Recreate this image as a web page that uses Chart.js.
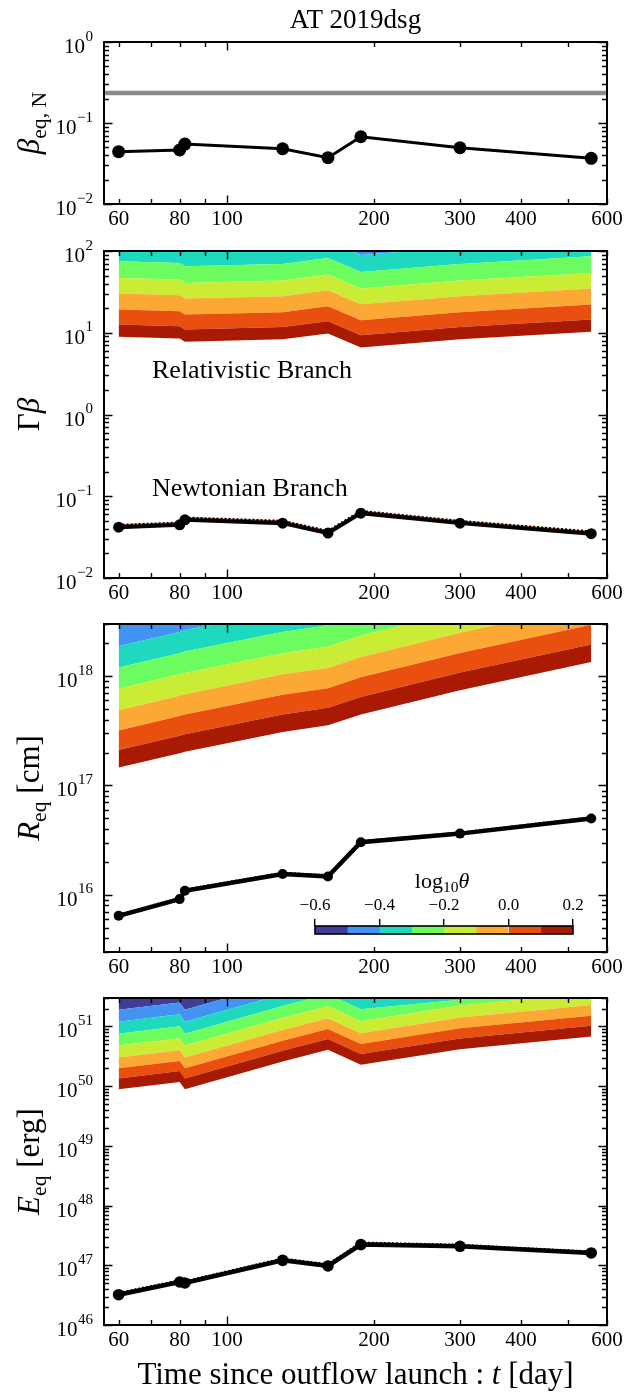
<!DOCTYPE html>
<html><head><meta charset="utf-8">
<script src="https://cdn.jsdelivr.net/npm/chart.js@4.4.1/dist/chart.umd.min.js"></script>
<style>
html,body{margin:0;padding:0;background:#fff;}
body{width:644px;height:1393px;position:relative;overflow:hidden;}
canvas{position:absolute;left:0;}
</style></head><body>
<canvas id="c1"></canvas><canvas id="c2"></canvas><canvas id="c3"></canvas><canvas id="c4"></canvas><canvas id="cb"></canvas>
<script>
const FONT = '"Liberation Serif", "Times New Roman", serif';

// ---------- data ----------
const days = [60, 80, 82, 130, 161, 188, 300, 557];
const betaEqN = [0.0442, 0.0464, 0.055, 0.0481, 0.0373, 0.0676, 0.0495, 0.0366];
const betaLimit = 0.234;
const gbNewton = [0.0419, 0.0447, 0.0515, 0.0469, 0.0354, 0.0621, 0.0469, 0.0348];
const gbNewtonDot = [0.0446, 0.0475, 0.0548, 0.0499, 0.0377, 0.066, 0.0499, 0.037];
const rEq = [6.43e15, 9.14e15, 1.09e16, 1.55e16, 1.47e16, 3.03e16, 3.63e16, 5.0e16];
const rEqDot = [6.6e15, 9.35e15, 1.12e16, 1.59e16, 1.51e16, 3.1e16, 3.71e16, 5.12e16];
const eEq = [3.22e46, 5.25e46, 5.06e46, 1.21e47, 9.75e46, 2.22e47, 2.08e47, 1.61e47];
const eEqDot = [3.45e46, 5.6e46, 5.4e46, 1.3e47, 1.04e47, 2.4e47, 2.2e47, 1.7e47];

// contour boundaries (from log10 theta = 0.2 at bottom to -0.6 at top), one row per level
const thetaLevels = [0.2, 0.1, 0.0, -0.1, -0.2, -0.3, -0.4, -0.5, -0.6];
const gbBounds = [
  [8.93, 8.53, 7.76, 8.30, 9.82, 6.62, 8.30, 10.28],
  [12.62, 12.05, 10.96, 11.72, 13.87, 9.35, 11.72, 14.52],
  [19.23, 18.37, 16.71, 17.86, 21.13, 14.26, 17.86, 22.13],
  [30.13, 28.77, 26.18, 27.99, 33.11, 22.34, 27.99, 34.67],
  [46.88, 44.77, 40.74, 43.55, 51.52, 34.75, 43.55, 53.95],
  [74.82, 71.45, 65.01, 69.5, 82.22, 55.46, 69.5, 86.1],
  [120.5, 115.1, 104.7, 111.9, 132.4, 89.3, 111.9, 138.7],
  [190, 182, 166, 177, 210, 141, 177, 220],
  [300, 290, 260, 280, 330, 225, 280, 350]
];
const rBounds = [
  [1.46e17, 1.97e17, 2.04e17, 3.09e17, 3.55e17, 4.47e17, 7.45e17, 1.35e18],
  [2.11e17, 2.85e17, 2.95e17, 4.47e17, 5.13e17, 6.46e17, 1.08e18, 1.95e18],
  [3.19e17, 4.32e17, 4.47e17, 6.76e17, 7.76e17, 9.77e17, 1.63e18, 2.96e18],
  [4.89e17, 6.61e17, 6.84e17, 1.04e18, 1.19e18, 1.50e18, 2.50e18, 4.53e18],
  [7.66e17, 1.04e18, 1.07e18, 1.62e18, 1.86e18, 2.34e18, 3.91e18, 7.10e18],
  [1.20e18, 1.62e18, 1.68e18, 2.54e18, 2.92e18, 3.67e18, 6.12e18, 1.11e19],
  [1.88e18, 2.54e18, 2.63e18, 3.98e18, 4.57e18, 5.75e18, 9.59e18, 1.74e19],
  [3.27e18, 4.4e18, 4.6e18, 7.0e18, 8.0e18, 1.0e19, 1.7e19, 3.0e19],
  [6e18, 8e18, 8.5e18, 1.3e19, 1.5e19, 1.9e19, 3e19, 5.5e19]
];
const eBounds = [
  [8.91e49, 1.18e50, 8.91e49, 2.59e50, 4.06e50, 2.28e50, 4.17e50, 6.79e50],
  [1.35e50, 1.79e50, 1.35e50, 3.92e50, 6.15e50, 3.45e50, 6.31e50, 1.03e51],
  [2.0e50, 2.65e50, 2.0e50, 5.79e50, 9.1e50, 5.1e50, 9.33e50, 1.52e51],
  [3.02e50, 4.01e50, 3.02e50, 8.77e50, 1.38e51, 7.73e50, 1.41e51, 2.30e51],
  [4.79e50, 6.35e50, 4.79e50, 1.39e51, 2.18e51, 1.22e51, 2.24e51, 3.65e51],
  [7.59e50, 1.01e51, 7.59e50, 2.20e51, 3.46e51, 1.94e51, 2.8e51, 5.78e51],
  [1.20e51, 1.60e51, 1.20e51, 3.49e51, 5.48e51, 3.08e51, 5.62e51, 9.16e51],
  [1.91e51, 2.53e51, 1.91e51, 5.53e51, 8.69e51, 4.88e51, 8.91e51, 1.45e52],
  [4e51, 5e51, 4e51, 9e51, 1.4e52, 8e51, 1.4e52, 2.3e52]
];
// band colours, bottom (0.1..0.2) to top (-0.6..-0.5)
const bandColors = ['#a81a03', '#e9500f', '#fca834', '#cbec34', '#6dfc5f', '#1fd8c0', '#4393f5', '#3f3d97'];
const cbEdges = [-0.6, -0.5, -0.4, -0.3, -0.2, -0.1, 0.0, 0.1, 0.2];
const cbColors = ['#3f3d97', '#4393f5', '#1fd8c0', '#6dfc5f', '#cbec34', '#fca834', '#e9500f', '#a81a03'];
const cbTicks = [-0.6, -0.4, -0.2, 0.0, 0.2];

const X_MIN = 56, X_MAX = 600;
const xTickValues = [60, 70, 80, 90, 100, 200, 300, 400, 500, 600];
const xTickLabels = ['60', '', '80', '', '100', '200', '300', '400', '', '600'];

// ---------- helpers ----------
function pts(vals) { return days.map((d, i) => ({ x: d, y: vals[i] })); }
function mainLine(vals, bw, r) {
  return { data: pts(vals), borderColor: '#000', backgroundColor: '#000', borderWidth: bw,
           pointRadius: r, pointBackgroundColor: '#000', pointBorderWidth: 0, fill: false, tension: 0 };
}
function dotLine(vals) {
  return { data: pts(vals), borderColor: '#000', borderWidth: 2.2, borderDash: [2, 2], pointRadius: 0, fill: false, tension: 0 };
}
function redLine(vals) {
  return { data: pts(vals), borderColor: '#d8401c', borderWidth: 1, pointRadius: 0, fill: false, tension: 0 };
}
function contourSets(bounds) {
  return bounds.map((row, k) => ({
    data: pts(row), borderColor: 'rgba(0,0,0,0)', borderWidth: 0, pointRadius: 0, tension: 0,
    backgroundColor: k ? bandColors[k - 1] : 'rgba(0,0,0,0)', fill: k ? '-1' : false
  }));
}
function rich(ctx, x, y, parts, align) {
  let w = 0;
  parts.forEach(p => { ctx.font = p.f; p.w = ctx.measureText(p.t).width; w += p.w; });
  let cx = align === 'center' ? x - w / 2 : (align === 'right' ? x - w : x);
  parts.forEach(p => { ctx.font = p.f; ctx.fillText(p.t, cx, y + (p.dy || 0)); cx += p.w; });
}
function yTitle(ctx, bx, cy, parts) {
  ctx.save(); ctx.translate(bx, cy); ctx.rotate(-Math.PI / 2);
  ctx.fillStyle = '#000'; ctx.textBaseline = 'alphabetic';
  rich(ctx, 0, 0, parts, 'center'); ctx.restore();
}
const F = (s, st) => (st ? st + ' ' : '') + s + 'px ' + FONT;

function drawFrame(chart, yMin, yMax) {
  const { ctx, chartArea: a } = chart;
  const x = chart.scales.x, y = chart.scales.y;
  ctx.save();
  ctx.strokeStyle = '#000'; ctx.lineWidth = 1.4;
  ctx.beginPath();
  for (const v of xTickValues) {
    const px = Math.round(x.getPixelForValue(v)) + 0.5;
    const len = v === 100 ? 8.5 : 5;
    ctx.moveTo(px, a.bottom); ctx.lineTo(px, a.bottom - len);
    ctx.moveTo(px, a.top); ctx.lineTo(px, a.top + len);
  }
  const lo = Math.floor(Math.log10(yMin)), hi = Math.ceil(Math.log10(yMax));
  const majors = [];
  for (let d = lo; d <= hi; d++) {
    for (let k = 1; k < 10; k++) {
      const v = k * Math.pow(10, d);
      if (v < yMin * 0.999 || v > yMax * 1.001) continue;
      const py = Math.round(y.getPixelForValue(v)) + 0.5;
      const len = k === 1 ? 8.5 : 5;
      ctx.moveTo(a.left, py); ctx.lineTo(a.left + len, py);
      ctx.moveTo(a.right, py); ctx.lineTo(a.right - len, py);
      if (k === 1) majors.push([d, y.getPixelForValue(v)]);
    }
  }
  ctx.stroke();
  ctx.lineWidth = 2;
  ctx.strokeRect(a.left, a.top, a.right - a.left, a.bottom - a.top);
  ctx.fillStyle = '#000'; ctx.textBaseline = 'alphabetic';
  for (const [d, py] of majors) {
    const exp = d < 0 ? '\u2212' + (-d) : String(d);
    ctx.font = F(15); const we = ctx.measureText(exp).width;
    ctx.font = F(21); const wb = ctx.measureText('10').width;
    const xr = a.left - 11;
    ctx.fillText('10', xr - we - wb - 0.5, py + 11);
    ctx.font = F(15); ctx.fillText(exp, xr - we, py - 1.5);
  }
  ctx.restore();
}

function makePanel(id, top, height, plotTop, plotBottom, yMin, yMax, datasets, extra) {
  const cv = document.getElementById(id);
  cv.width = 644; cv.height = height;
  cv.style.top = top + 'px'; cv.style.width = '644px'; cv.style.height = height + 'px';
  const padTop = plotTop - top;
  const xAxisH = height - (plotBottom - top);
  return new Chart(cv, {
    type: 'line',
    data: { datasets },
    options: {
      responsive: false, animation: false, devicePixelRatio: 1,
      layout: { padding: { left: 104, right: 37, top: padTop, bottom: 0 } },
      plugins: { legend: { display: false }, tooltip: { enabled: false } },
      scales: {
        x: {
          type: 'logarithmic', min: X_MIN, max: X_MAX, position: 'bottom',
          grid: { display: false, drawTicks: false }, border: { display: false },
          ticks: { autoSkip: false, maxRotation: 0, minRotation: 0, padding: 5, color: '#000',
                   font: { family: FONT, size: 21, lineHeight: 1 },
                   callback: (v) => { const i = xTickValues.indexOf(v); return i >= 0 ? xTickLabels[i] : ''; } },
          afterBuildTicks: s => { s.ticks = xTickValues.map(v => ({ value: v })); },
          afterFit: s => { s.height = xAxisH; }
        },
        y: { type: 'logarithmic', min: yMin, max: yMax, display: false }
      }
    },
    plugins: [{ id: 'frame' + id, afterDraw(chart) { drawFrame(chart, yMin, yMax); if (extra) extra(chart); } }]
  });
}

// ---------- panel 1 ----------
makePanel('c1', 0, 240, 42, 204, 0.01, 1, [
  mainLine(betaEqN, 3, 6.5),
  { data: [{ x: X_MIN, y: betaLimit }, { x: X_MAX, y: betaLimit }], borderColor: '#8a8a8a', borderWidth: 4.5, pointRadius: 0, fill: false }
], chart => {
  const ctx = chart.ctx;
  ctx.save(); ctx.fillStyle = '#000'; ctx.textBaseline = 'alphabetic';
  ctx.font = F(27); ctx.textAlign = 'center';
  ctx.fillText('AT 2019dsg', (chart.chartArea.left + chart.chartArea.right) / 2, 28);
  ctx.textAlign = 'left';
  ctx.restore();
  yTitle(ctx, 39, 123, [{ t: '\u03B2', f: F(31, 'italic') }, { t: 'eq, N', f: F(21.7), dy: 7 }]);
});

// ---------- panel 2 ----------
makePanel('c2', 221, 393, 251, 578, 0.01, 100, [
  mainLine(gbNewton, 4, 5.5), dotLine(gbNewtonDot), redLine(gbNewtonDot), ...contourSets(gbBounds)
], chart => {
  const ctx = chart.ctx;
  ctx.save(); ctx.fillStyle = '#000'; ctx.textBaseline = 'alphabetic'; ctx.font = F(26);
  ctx.fillText('Relativistic Branch', 152, 378 - 221);
  ctx.fillText('Newtonian Branch', 152, 496 - 221);
  ctx.restore();
  yTitle(ctx, 39, 414.5 - 221, [{ t: '\u0393', f: F(31) }, { t: '\u03B2', f: F(31, 'italic') }]);
});

// ---------- panel 3 ----------
makePanel('c3', 594, 394, 624, 952, 3e15, 3e18, [
  mainLine(rEq, 4.5, 5), dotLine(rEqDot), redLine(rEqDot), ...contourSets(rBounds)
], chart => {
  yTitle(chart.ctx, 39, 788 - 594, [{ t: 'R', f: F(31, 'italic') }, { t: 'eq', f: F(21.7), dy: 7 }, { t: ' [cm]', f: F(31) }]);
});

// ---------- panel 4 ----------
makePanel('c4', 968, 425, 998, 1325, 1e46, 3e51, [
  mainLine(eEq, 4.5, 5.8), dotLine(eEqDot), redLine(eEqDot), ...contourSets(eBounds)
], chart => {
  const ctx = chart.ctx;
  yTitle(ctx, 39, 1161.5 - 968, [{ t: 'E', f: F(31, 'italic') }, { t: 'eq', f: F(21.7), dy: 7 }, { t: ' [erg]', f: F(31) }]);
  ctx.save(); ctx.fillStyle = '#000'; ctx.textBaseline = 'alphabetic';
  rich(ctx, (chart.chartArea.left + chart.chartArea.right) / 2, 1384 - 968,
    [{ t: 'Time since outflow launch : ', f: F(31) }, { t: 't', f: F(31, 'italic') }, { t: ' [day]', f: F(31) }], 'center');
  ctx.restore();
});

// ---------- colour bar ----------
(function () {
  const cv = document.getElementById('cb');
  const top = 860, h = 80;
  cv.width = 644; cv.height = h; cv.style.top = top + 'px'; cv.style.width = '644px'; cv.style.height = h + 'px';
  new Chart(cv, {
    type: 'bar',
    data: {
      labels: ['theta'],
      datasets: cbColors.map((c, i) => ({
        data: [[cbEdges[i], cbEdges[i + 1]]], backgroundColor: c, borderWidth: 0,
        barPercentage: 1, categoryPercentage: 1, grouped: false
      }))
    },
    options: {
      indexAxis: 'y', responsive: false, animation: false, devicePixelRatio: 1,
      layout: { padding: { left: 315, right: 71, top: 0, bottom: 6 } },
      plugins: { legend: { display: false }, tooltip: { enabled: false } },
      scales: {
        x: {
          type: 'linear', position: 'top', min: -0.6, max: 0.2,
          grid: { display: true, drawOnChartArea: false, drawTicks: true, tickLength: 7, color: '#000', lineWidth: 1.4 },
          border: { display: false },
          ticks: { padding: 5, color: '#000', font: { family: FONT, size: 17, lineHeight: 1 },
                   callback: v => (v < 0 ? '\u2212' : '') + Math.abs(v).toFixed(1) },
          afterBuildTicks: s => { s.ticks = cbTicks.map(v => ({ value: v })); },
          afterFit: s => { s.height = 66; }
        },
        y: { type: 'category', display: false }
      }
    },
    plugins: [{ id: 'cbframe', afterDraw(chart) {
      const { ctx, chartArea: a } = chart;
      ctx.save(); ctx.strokeStyle = '#000'; ctx.lineWidth = 1.6;
      ctx.strokeRect(a.left, a.top, a.right - a.left, a.bottom - a.top);
      ctx.fillStyle = '#000'; ctx.textBaseline = 'alphabetic';
      rich(ctx, 442, 28, [{ t: 'log', f: F(22) }, { t: '10', f: F(15.5), dy: 4 }, { t: '\u03B8', f: F(22, 'italic') }], 'center');
      ctx.restore();
    } }]
  });
})();
</script>
</body></html>
